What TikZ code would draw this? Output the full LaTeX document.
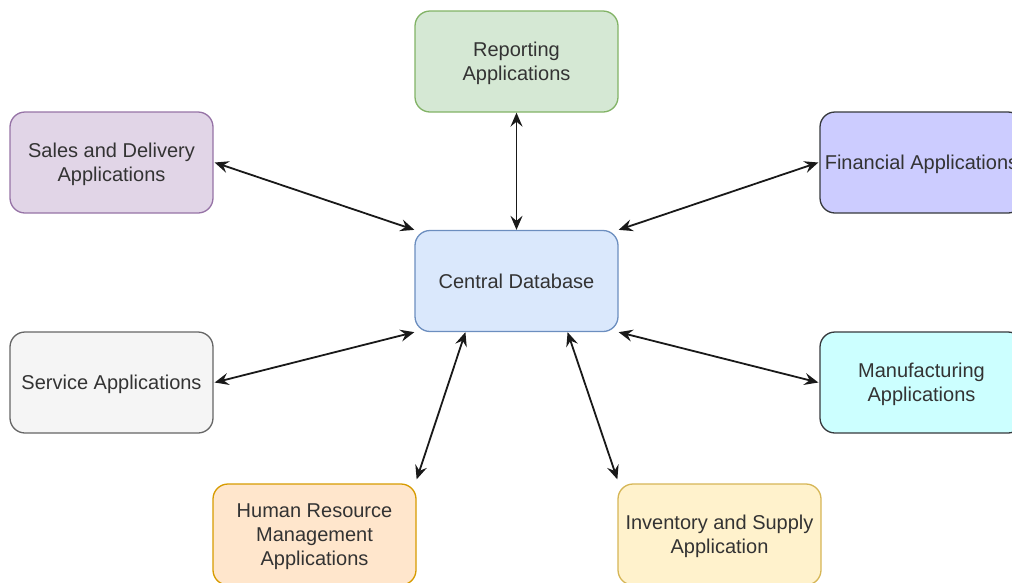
\documentclass[tikz,border=0pt]{standalone}
\usepackage{fontspec}
\setmainfont{Liberation Sans}
\usetikzlibrary{arrows.meta,calc}

\definecolor{txt}{HTML}{333333}
\definecolor{greenF}{HTML}{D5E8D4}\definecolor{greenS}{HTML}{82B366}
\definecolor{purpF}{HTML}{E1D5E7}\definecolor{purpS}{HTML}{9673A6}
\definecolor{blueF}{HTML}{DAE8FC}\definecolor{blueS}{HTML}{6C8EBF}
\definecolor{lavF}{HTML}{CCCCFF}\definecolor{darkS}{HTML}{36393D}
\definecolor{cyanF}{HTML}{CCFFFF}
\definecolor{grayF}{HTML}{F5F5F5}\definecolor{grayS}{HTML}{666666}
\definecolor{orangeF}{HTML}{FFE6CC}\definecolor{orangeS}{HTML}{D79B00}
\definecolor{yellowF}{HTML}{FFF2CC}\definecolor{yellowS}{HTML}{D6B656}

\tikzset{
  appbox/.style={draw, rounded corners=15pt, minimum width=203pt, minimum height=101pt,
    line width=1.3pt, align=center, text=txt, inner sep=0pt, text depth=0pt,
    font=\fontsize{20pt}{24pt}\selectfont},
  tip/.style={Stealth[length=14pt,width=12pt,inset=5pt]},
  link/.style={line width=1.8pt, draw=black!90, {Stealth[length=14pt,width=12pt,inset=5pt]}-{Stealth[length=14pt,width=12pt,inset=5pt]}}
}

\begin{document}
\begin{tikzpicture}[x=1pt,y=-1pt]
  \useasboundingbox (0,0) rectangle (1012,582);
  \clip (0,0) rectangle (1012,582);

  % application boxes around the central database
  \node[appbox, fill=greenF,  draw=greenS]  (rep)  at (516.5,61.5)  {Reporting\\Applications};
  \node[appbox, fill=purpF,   draw=purpS]   (sal)  at (111.5,162.5) {Sales and Delivery\\Applications};
  \node[appbox, fill=lavF,    draw=darkS]   (fin)  at (921.5,162.5) {Financial Applications};
  \node[appbox, fill=blueF,   draw=blueS]   (cdb)  at (516.5,281)   {Central Database};
  \node[appbox, fill=grayF,   draw=grayS]   (srv)  at (111.5,382.5) {Service Applications};
  \node[appbox, fill=cyanF,   draw=darkS]   (man)  at (921.5,382.5) {Manufacturing\\Applications};
  \node[appbox, fill=orangeF, draw=orangeS] (hr)   at (314.5,534.5) {Human Resource\\Management\\Applications};
  \node[appbox, fill=yellowF, draw=yellowS] (inv)  at (719.5,534.5) {Inventory and Supply\\Application};

  % attachment points on the bottom edge of the database box
  \coordinate (cdbSW) at ($(cdb.south west)!0.25!(cdb.south east)$);
  \coordinate (cdbSE) at ($(cdb.south west)!0.75!(cdb.south east)$);

  % two-way links
  \draw[link] (rep.south) -- (cdb.north);
  \draw[link] ([xshift=1pt]sal.east) -- (cdb.north west);
  \draw[link] ([xshift=-1pt]fin.west) -- (cdb.north east);
  \draw[link] ([xshift=1pt]srv.east) -- (cdb.south west);
  \draw[link] ([xshift=-1pt]man.west) -- (cdb.south east);
  \draw[link] ([yshift=4pt]hr.north east) -- (cdbSW);
  \draw[link] ([yshift=4pt]inv.north west) -- (cdbSE);
\end{tikzpicture}
\end{document}
